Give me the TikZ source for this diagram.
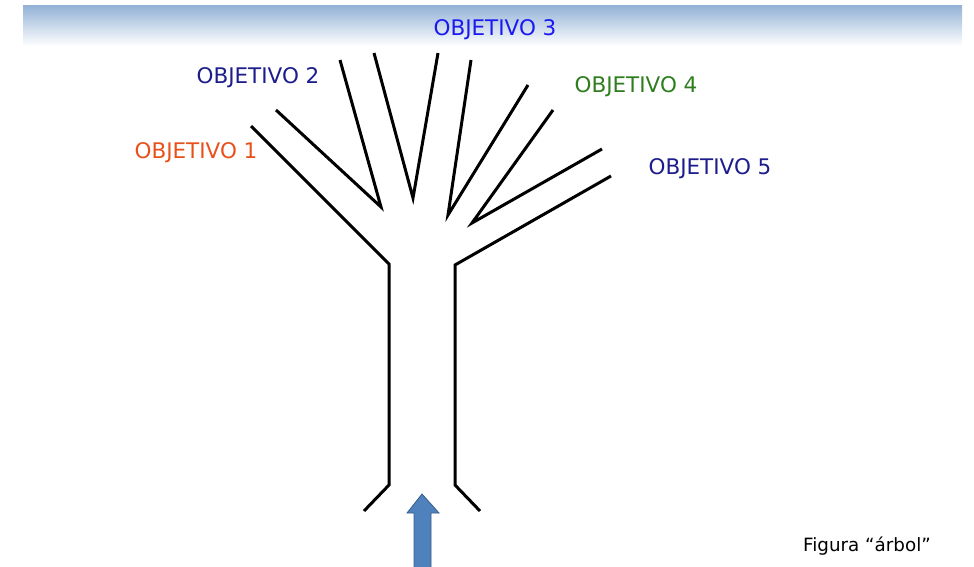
\documentclass[tikz,border=0pt]{standalone}
\usepackage{fontspec}
\setmainfont{DejaVu Sans}
\definecolor{obj1}{HTML}{E8501A}
\definecolor{obj2}{HTML}{1C1C8C}
\definecolor{obj3}{HTML}{1A1AF0}
\definecolor{obj4}{HTML}{2E7D1E}
\definecolor{bandtop}{HTML}{95B3D7}
\definecolor{arrowfill}{HTML}{4F81BD}
\definecolor{arrowline}{HTML}{385D8A}
\tikzset{
  branch/.style={line width=3pt, line join=miter, black},
  objlabel/.style={font=\fontsize{21.5}{23}\selectfont, inner sep=0pt}
}
\begin{document}
\begin{tikzpicture}[x=1pt,y=-1pt]
\useasboundingbox (0,0) rectangle (974,567);
\shade[top color=bandtop, bottom color=white] (23,6) rectangle (962,46);
% coordinates
\coordinate (l1) at (251,126);
\coordinate (lb) at (389,264);
\coordinate (lk) at (389,485);
\coordinate (lf) at (364,511);
\coordinate (a1) at (276,110);
\coordinate (a2) at (381,207);
\coordinate (a3) at (340,60);
\coordinate (b1) at (374,53);
\coordinate (b2) at (413,198);
\coordinate (b3) at (438,53);
\coordinate (c1) at (471,60);
\coordinate (c2) at (448,215);
\coordinate (c3) at (528,85);
\coordinate (d1) at (553,110);
\coordinate (d2) at (472,223);
\coordinate (d3) at (602,149);
\coordinate (r1) at (611,176);
\coordinate (rb) at (455,265);
\coordinate (rk) at (455,485);
\coordinate (rf) at (480,511);
\draw[branch] (l1) -- (lb) -- (lk) -- (lf);
\draw[branch] (a1) -- (a2) -- (a3);
\draw[branch] (b1) -- (b2) -- (b3);
\draw[branch] (c1) -- (c2) -- (c3);
\draw[branch] (d1) -- (d2) -- (d3);
\draw[branch] (r1) -- (rb) -- (rk) -- (rf);
% arrow
\filldraw[fill=arrowfill, draw=arrowline, line width=0.8pt]
  (414,568) -- (414,513) -- (407,513) -- (422,494) -- (439,513) -- (431,513) -- (431,568) -- cycle;
% labels
\node[objlabel, text=obj3] (o3) at (495,30) {OBJETIVO 3};
\node[objlabel, text=obj2] (o2) at (258,78) {OBJETIVO 2};
\node[objlabel, text=obj1] (o1) at (196,153) {OBJETIVO 1};
\node[objlabel, text=obj4] (o4) at (636,87) {OBJETIVO 4};
\node[objlabel, text=obj2] (o5) at (710,169) {OBJETIVO 5};
\node[font=\fontsize{18.3}{20}\selectfont, inner sep=0pt] (fig) at (867,546) {Figura “árbol”};
\end{tikzpicture}
\end{document}
